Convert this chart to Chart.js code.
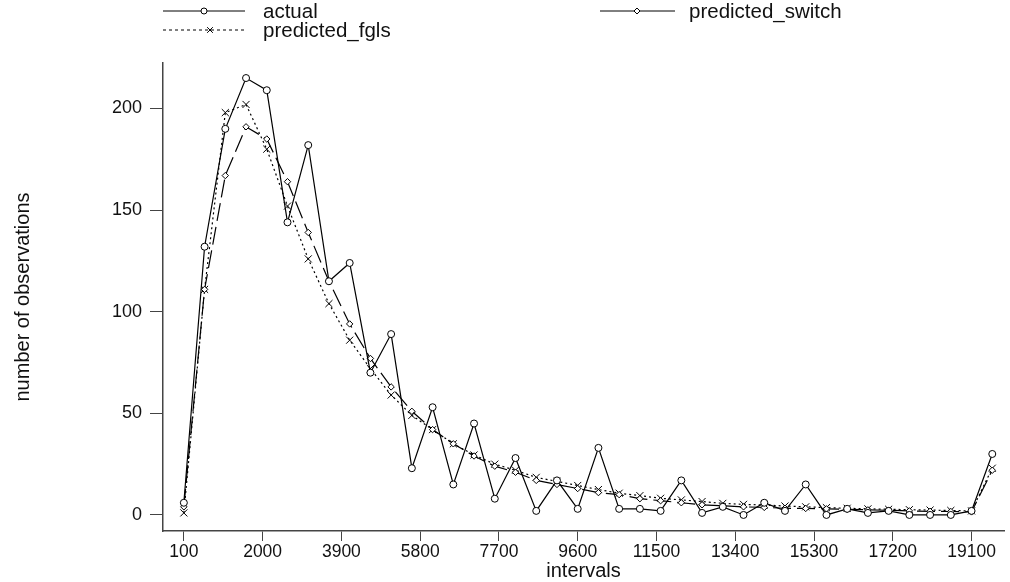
<!DOCTYPE html>
<html>
<head>
<meta charset="utf-8">
<script src="https://cdn.jsdelivr.net/npm/chart.js@4/dist/chart.umd.min.js"></script>
<style>
    html, body { margin: 0; padding: 0; background: #fff; }
    #wrap { width: 1010px; height: 582px; position: relative; }
</style>
</head>
<body>
<div id="wrap"><canvas id="obsChart"></canvas></div>
<script>
const intervals = [100, 600, 1100, 1600, 2100, 2600, 3100, 3600, 4100, 4600,
    5100, 5600, 6100, 6600, 7100, 7600, 8100, 8600, 9100, 9600,
    10100, 10600, 11100, 11600, 12100, 12600, 13100, 13600, 14100, 14600,
    15100, 15600, 16100, 16600, 17100, 17600, 18100, 18600, 19100, 19600];

const actual = [6, 132, 190, 215, 209, 144, 182, 115, 124, 70,
    89, 23, 53, 15, 45, 8, 28, 2, 17, 3,
    33, 3, 3, 2, 17, 1, 4, 0, 6, 2,
    15, 0, 3, 1, 2, 0, 0, 0, 2, 30];

const predictedSwitch = [4, 111, 167, 191, 185, 164, 139, 115, 94, 77,
    63, 51, 42, 35, 29, 24, 21, 17, 15, 13,
    11, 10, 8, 7, 6, 5, 4.5, 4, 3.7, 3.3,
    3.2, 3, 2.8, 2.5, 2.3, 2, 1.8, 1.7, 1.5, 22];

const predictedFgls = [1, 111, 198, 202, 180, 152, 126, 104, 86, 72,
    59, 49, 42, 35, 29.5, 25, 22, 18.5, 16.5, 14.5,
    12.5, 10.7, 9.5, 8.2, 7.4, 6.6, 5.7, 5.2, 4.9, 4.4,
    4, 3.6, 3.3, 3, 2.8, 2.6, 2.4, 2.2, 2, 23];

const xTicks = [100, 2000, 3900, 5800, 7700, 9600, 11500, 13400, 15300, 17200, 19100];
const yTicks = [0, 50, 100, 150, 200];

const FONT = "'Liberation Sans', Arial, Helvetica, sans-serif";

function toPoints(values) {
    return values.map((v, i) => ({ x: intervals[i], y: v }));
}

// legend drawn by hand: line sample with a marker in the middle, like the original
const legendPlugin = {
    id: 'lineLegend',
    afterDraw(chart) {
        const ctx = chart.ctx;
        const items = [
            { ds: 0, x1: 163, x2: 245, mx: 204, y: 11, tx: 263 },
            { ds: 1, x1: 600, x2: 675, mx: 637, y: 11, tx: 689 },
            { ds: 2, x1: 163, x2: 245, mx: 210, y: 30, tx: 263 }
        ];
        ctx.save();
        items.forEach(it => {
            const ds = chart.data.datasets[it.ds];
            ctx.strokeStyle = '#000';
            ctx.lineWidth = 1;
            ctx.setLineDash(ds.legendDash || []);
            ctx.beginPath();
            ctx.moveTo(it.x1, it.y);
            ctx.lineTo(it.x2, it.y);
            ctx.stroke();
            ctx.setLineDash([]);
            ctx.fillStyle = '#fff';
            Chart.helpers.drawPoint(ctx, {
                pointStyle: ds.pointStyle,
                radius: ds.legendRadius,
                rotation: 0,
                borderWidth: 1
            }, it.mx, it.y);
            ctx.fillStyle = '#111';
            ctx.font = '20.5px ' + FONT;
            ctx.textBaseline = 'middle';
            ctx.fillText(ds.label, it.tx, it.y + 1);
        });
        ctx.restore();
    }
};

let ctx = document.getElementById('obsChart').getContext('2d');

let obsChart = new Chart(ctx, {
    type: 'line',
    data: {
        datasets: [
            {
                label: 'actual',
                data: toPoints(actual),
                borderColor: '#000',
                borderWidth: 1.2,
                pointStyle: 'circle',
                pointRadius: 3.5,
                pointBorderWidth: 1,
                pointBorderColor: '#000',
                pointBackgroundColor: '#fff',
                legendRadius: 3,
                fill: false,
                tension: 0
            },
            {
                label: 'predicted_switch',
                data: toPoints(predictedSwitch),
                borderColor: '#000',
                borderWidth: 1.2,
                borderDash: [18, 6],
                pointStyle: 'rectRot',
                pointRadius: 3.2,
                pointBorderWidth: 1,
                pointBorderColor: '#000',
                pointBackgroundColor: '#fff',
                legendRadius: 3,
                fill: false,
                tension: 0
            },
            {
                label: 'predicted_fgls',
                data: toPoints(predictedFgls),
                borderColor: '#000',
                borderWidth: 1.2,
                borderDash: [2, 3],
                legendDash: [3, 3],
                pointStyle: 'crossRot',
                pointRadius: 5,
                pointBorderWidth: 1,
                pointBorderColor: '#000',
                legendRadius: 4,
                fill: false,
                tension: 0
            }
        ]
    },
    options: {
        responsive: true,
        maintainAspectRatio: false,
        animation: false,
        layout: { padding: { top: 63, right: 0, left: 0, bottom: 0 } },
        plugins: {
            legend: { display: false },
            tooltip: { enabled: false }
        },
        scales: {
            x: {
                type: 'linear',
                min: -403,
                max: 19883,
                afterBuildTicks: axis => { axis.ticks = xTicks.map(v => ({ value: v })); },
                afterFit: axis => { axis.height = 51; },
                grid: { drawOnChartArea: false, drawTicks: true, tickLength: 10, color: '#444' },
                border: { display: true, color: '#444', width: 1.5 },
                ticks: {
                    autoSkip: false,
                    maxRotation: 0,
                    padding: 1,
                    color: '#111',
                    font: { family: FONT, size: 17.5 },
                    callback: v => String(v)
                },
                title: {
                    display: true,
                    text: 'intervals',
                    color: '#111',
                    font: { family: FONT, size: 20 },
                    padding: { top: 0, bottom: -1 }
                }
            },
            y: {
                min: -7.9,
                max: 222.4,
                afterBuildTicks: axis => { axis.ticks = yTicks.map(v => ({ value: v })); },
                afterFit: axis => { axis.width = 163; },
                grid: { drawOnChartArea: false, drawTicks: true, tickLength: 13, color: '#444' },
                border: { display: true, color: '#444', width: 1.5 },
                ticks: {
                    padding: 8,
                    color: '#111',
                    font: { family: FONT, size: 18 },
                    callback: v => String(v)
                },
                title: {
                    display: true,
                    text: 'number of observations',
                    color: '#111',
                    font: { family: FONT, size: 20 },
                    padding: { top: 11, bottom: 0 }
                }
            }
        }
    },
    plugins: [legendPlugin]
});
</script>
</body>
</html>
